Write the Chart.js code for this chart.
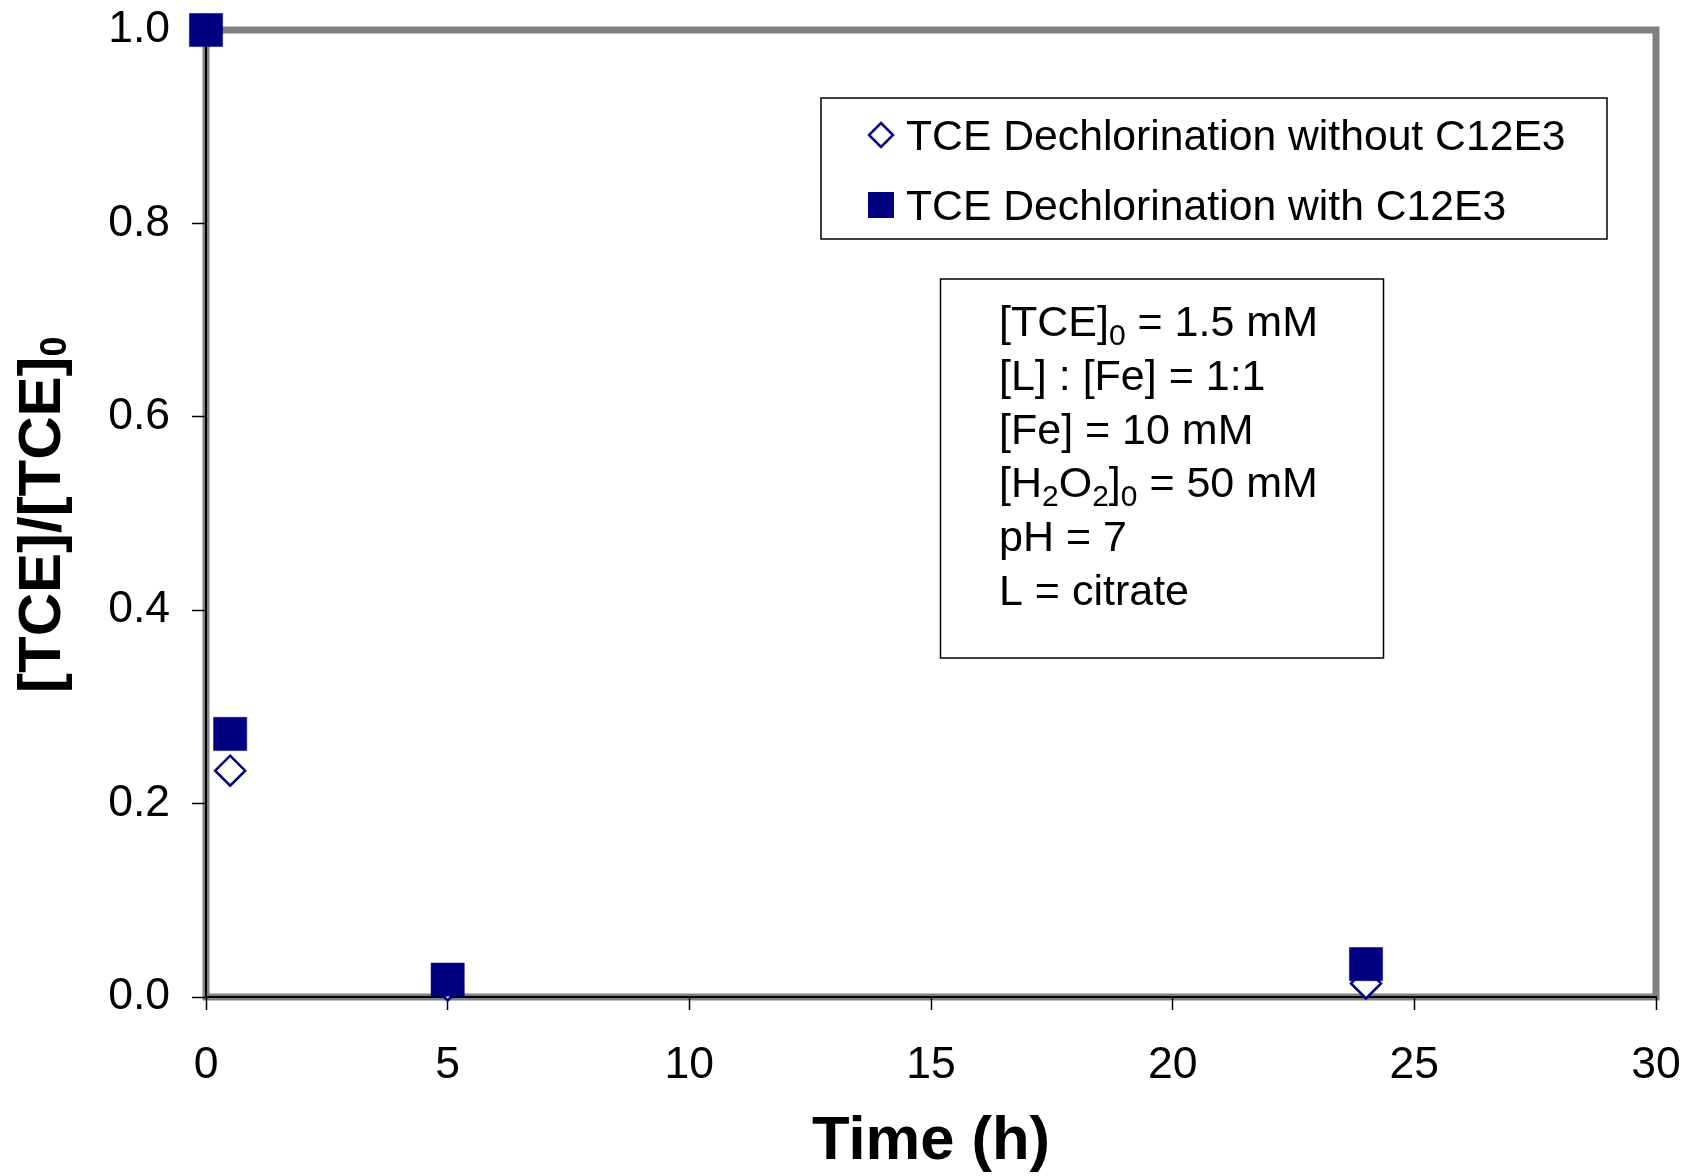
<!DOCTYPE html>
<html>
<head>
<meta charset="utf-8">
<script src="https://cdn.jsdelivr.net/npm/chart.js@4.4.1/dist/chart.umd.min.js"></script>
<style>
  html, body { margin: 0; padding: 0; background: #fff; }
  #wrap { width: 1685px; height: 1176px; position: relative; }
</style>
</head>
<body>
<div id="wrap"><canvas id="c" width="1685" height="1176"></canvas></div>
<script>
// Sampling times (h) and normalised TCE concentration [TCE]/[TCE]0
const timeWithout = [0, 0.5, 5, 24];
const ratioWithout = [1.0, 0.234, 0.012, 0.014];
const timeWith = [0, 0.5, 5, 24];
const ratioWith = [1.0, 0.272, 0.018, 0.034];

const xTicks = [0, 5, 10, 15, 20, 25, 30];
const yTicks = [0, 0.2, 0.4, 0.6, 0.8, 1.0];

const seriesNames = ['TCE Dechlorination without C12E3', 'TCE Dechlorination with C12E3'];
const xTitle = 'Time (h)';
const yTitleMain = '[TCE]/[TCE]';
const yTitleSub = '0';

// Experimental conditions, as [text, isSubscript] runs per line
const conditions = [
  [['[TCE]', false], ['0', true], [' = 1.5 mM', false]],
  [['[L] : [Fe] = 1:1', false]],
  [['[Fe] = 10 mM', false]],
  [['[H', false], ['2', true], ['O', false], ['2', true], [']', false], ['0', true], [' = 50 mM', false]],
  [['pH = 7', false]],
  [['L = citrate', false]]
];

const NAVY = '#000080';
const FONT = "'Liberation Sans', Arial, sans-serif";

const toPoints = (xs, ys) => xs.map((x, i) => ({ x: x, y: ys[i] }));

// Gray plot-area frame beneath the black axis lines
const frame = {
  id: 'frame',
  beforeDraw(chart) {
    const { ctx, chartArea: a } = chart;
    ctx.save();
    ctx.fillStyle = '#fff';
    ctx.fillRect(0, 0, chart.width, chart.height);
    ctx.strokeStyle = '#808080';
    ctx.lineWidth = 7;
    ctx.strokeRect(a.left, a.top, a.right - a.left, a.bottom - a.top);
    ctx.restore();
  }
};

function drawRuns(ctx, runs, x, y, size, subSize, subShift) {
  for (const [t, sub] of runs) {
    ctx.font = (sub ? subSize : size) + 'px ' + FONT;
    ctx.fillText(t, x, sub ? y + subShift : y);
    x += ctx.measureText(t).width;
  }
}

// Legend box, conditions box and the rotated y-axis title
const overlay = {
  id: 'overlay',
  afterDraw(chart) {
    const ctx = chart.ctx;
    ctx.save();
    ctx.fillStyle = '#000';
    ctx.textAlign = 'left';
    ctx.textBaseline = 'alphabetic';

    // legend
    ctx.fillStyle = '#fff';
    ctx.fillRect(821, 98, 786, 141);
    ctx.strokeStyle = '#000';
    ctx.lineWidth = 1.5;
    ctx.strokeRect(821, 98, 786, 141);

    ctx.strokeStyle = NAVY;
    ctx.lineWidth = 2.5;
    ctx.beginPath();
    ctx.moveTo(881, 123); ctx.lineTo(893, 135); ctx.lineTo(881, 147); ctx.lineTo(869, 135); ctx.closePath();
    ctx.fillStyle = '#fff';
    ctx.fill();
    ctx.stroke();
    ctx.fillStyle = NAVY;
    ctx.fillRect(868, 192, 26, 26);

    ctx.fillStyle = '#000';
    ctx.font = '42.7px ' + FONT;
    ctx.fillText(seriesNames[0], 906, 150);
    ctx.fillText(seriesNames[1], 906, 220);

    // conditions
    ctx.fillStyle = '#fff';
    ctx.fillRect(940.5, 279, 443, 379);
    ctx.strokeStyle = '#000';
    ctx.lineWidth = 1.5;
    ctx.strokeRect(940.5, 279, 443, 379);
    ctx.fillStyle = '#000';
    conditions.forEach((runs, i) => drawRuns(ctx, runs, 999, 336 + i * 53.8, 43, 30, 9));

    // y-axis title
    ctx.translate(60, 693);
    ctx.rotate(-Math.PI / 2);
    ctx.font = 'bold 60px ' + FONT;
    ctx.fillText(yTitleMain, 0, 0);
    const w = ctx.measureText(yTitleMain).width;
    ctx.font = 'bold 36px ' + FONT;
    ctx.fillText(yTitleSub, w, 6);
    ctx.restore();
  }
};

new Chart(document.getElementById('c'), {
  type: 'scatter',
  data: {
    datasets: [
      {
        label: seriesNames[1],
        data: toPoints(timeWith, ratioWith),
        pointStyle: 'rect',
        pointRadius: 23.5,
        pointHoverRadius: 23.5,
        backgroundColor: NAVY,
        borderColor: NAVY,
        borderWidth: 0.5,
        clip: false,
        order: 0
      },
      {
        label: seriesNames[0],
        data: toPoints(timeWithout, ratioWithout),
        pointStyle: 'rectRot',
        pointRadius: 15,
        pointHoverRadius: 15,
        backgroundColor: '#fff',
        borderColor: NAVY,
        borderWidth: 2.5,
        clip: false,
        order: 1
      }
    ]
  },
  options: {
    responsive: false,
    animation: false,
    devicePixelRatio: 1,
    layout: { autoPadding: false, padding: { left: 0, top: 30, right: 29, bottom: 0 } },
    plugins: { legend: { display: false }, tooltip: { enabled: false } },
    scales: {
      x: {
        type: 'linear',
        min: 0,
        max: 30,
        afterBuildTicks: s => { s.ticks = xTicks.map(v => ({ value: v })); },
        afterFit: s => { s.height = 179; s.paddingLeft = 0; s.paddingRight = 0; },
        ticks: { color: '#000', font: { family: FONT, size: 44.5 }, padding: 29, maxRotation: 0 },
        grid: { drawOnChartArea: false, drawTicks: true, tickLength: 13, tickColor: '#000', tickWidth: 1.5 },
        border: { display: true, color: '#000', width: 2 },
        title: { display: true, text: xTitle, color: '#000', font: { family: FONT, size: 61.5, weight: 'bold', lineHeight: 1.1 }, padding: 0 }
      },
      y: {
        type: 'linear',
        min: 0,
        max: 1,
        afterBuildTicks: s => { s.ticks = yTicks.map(v => ({ value: v })); },
        afterFit: s => { s.width = 206; s.paddingTop = 0; s.paddingBottom = 0; },
        ticks: { color: '#000', font: { family: FONT, size: 44.5 }, padding: 22, callback: v => v.toFixed(1) },
        grid: { drawOnChartArea: false, drawTicks: true, tickLength: 14, tickColor: '#000', tickWidth: 1.5 },
        border: { display: true, color: '#000', width: 2 }
      }
    }
  },
  plugins: [frame, overlay]
});
</script>
</body>
</html>
